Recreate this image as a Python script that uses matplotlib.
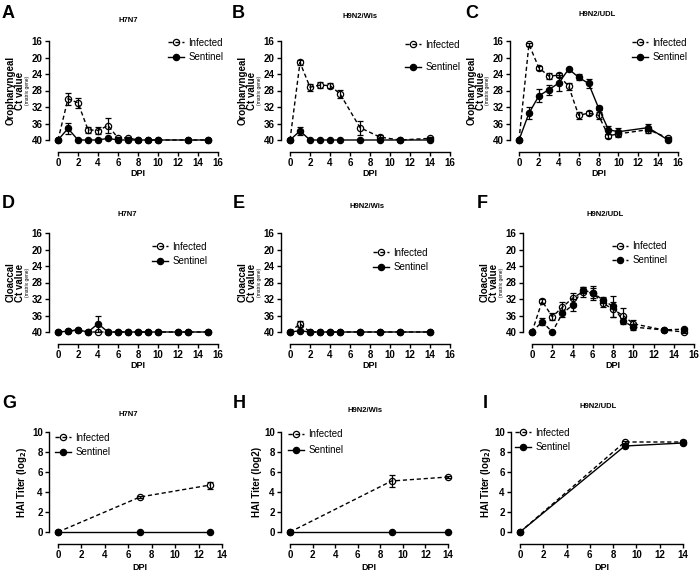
import numpy as np
import matplotlib
matplotlib.use('Agg')
import matplotlib.pyplot as plt

plt.rcParams['font.family'] = ['Liberation Sans', 'DejaVu Sans']
plt.rcParams['font.weight'] = 'bold'

W, H = 700, 577

# ---- oropharyngeal Ct values ----
A_x = [0, 1, 2, 3, 4, 5, 6, 7, 8, 9, 10, 13, 15]
A_inf = [40, 30.0, 31.0, 37.5, 37.7, 36.5, 39.5, 39.5, 40, 40, 40, 40, 40]
A_inf_err = [0, 1.5, 1.2, 0.7, 0.8, 1.8, 0.3, 0.3, 0, 0, 0, 0, 0]
A_sen = [40, 37.2, 40, 40, 40, 39.6, 40, 40, 40, 40, 40, 40, 40]
A_sen_err = [0, 1.3, 0, 0, 0, 0.2, 0, 0, 0, 0, 0, 0, 0]

B_x = [0, 1, 2, 3, 4, 5, 7, 9, 11, 14]
B_inf = [40, 21.2, 27.2, 26.7, 26.8, 28.8, 37.0, 39.3, 40, 39.6]
B_inf_err = [0, 0.5, 0.8, 0.8, 0.7, 1.0, 1.7, 0.4, 0, 0.3]
B_sen = [40, 37.8, 40, 40, 40, 40, 40, 40, 40, 40]
B_sen_err = [0, 1.0, 0, 0, 0, 0, 0, 0, 0, 0]

C_x = [0, 1, 2, 3, 4, 5, 6, 7, 8, 9, 10, 13, 15]
C_inf = [40, 16.8, 22.5, 24.5, 24.3, 27.0, 34.0, 33.5, 34.0, 39.0, 38.5, 37.5, 39.5]
C_inf_err = [0, 0.3, 0.5, 0.8, 0.5, 0.8, 0.8, 0.5, 0.8, 0.5, 0.8, 0.7, 0.3]
C_sen = [40, 33.5, 29.3, 27.8, 26.2, 22.8, 24.8, 26.3, 32.2, 37.5, 38.0, 37.0, 40.0]
C_sen_err = [0, 1.5, 1.6, 1.2, 2.0, 0.3, 0.7, 1.0, 0.5, 1.0, 1.0, 0.8, 0]

# ---- cloacal Ct values ----
D_x = [0, 1, 2, 3, 4, 5, 6, 7, 8, 9, 10, 12, 13, 15]
D_inf = [40, 39.8, 39.5, 40, 40, 40, 40, 40, 40, 40, 40, 40, 40, 40]
D_inf_err = [0, 0, 0.2, 0, 0, 0, 0, 0, 0, 0, 0, 0, 0, 0]
D_sen = [40, 39.8, 39.5, 40, 38.0, 40, 40, 40, 40, 40, 40, 40, 40, 40]
D_sen_err = [0, 0, 0, 0, 2.0, 0, 0, 0, 0, 0, 0, 0, 0, 0]

E_x = [0, 1, 2, 3, 4, 5, 7, 9, 11, 14]
E_inf = [40, 38.0, 40, 40, 40, 40, 40, 40, 40, 40]
E_inf_err = [0, 0.7, 0, 0, 0, 0, 0, 0, 0, 0]
E_sen = [40, 39.7, 40, 40, 40, 40, 40, 40, 40, 40]
E_sen_err = [0, 0, 0, 0, 0, 0, 0, 0, 0, 0]

F_x = [0, 1, 2, 3, 4, 5, 6, 7, 8, 9, 10, 13, 15]
F_inf = [40, 32.5, 36.3, 34.0, 31.8, 30.3, 30.5, 33.0, 34.5, 36.0, 38.0, 39.5, 40.0]
F_inf_err = [0, 0.5, 0.8, 1.3, 1.2, 1.2, 1.7, 1.0, 1.8, 1.8, 0.8, 0.3, 0.3]
F_sen = [40, 37.5, 40, 35.5, 33.5, 29.8, 30.5, 32.2, 33.8, 37.3, 38.8, 39.5, 39.3]
F_sen_err = [0, 0.8, 0, 0.8, 1.5, 0.8, 1.2, 0.8, 2.5, 0.8, 0.7, 0.2, 0.2]

# ---- HAI titers ----
G_x = [0, 7, 13]
G_inf = [0, 3.5, 4.7]
G_inf_err = [0, 0.1, 0.35]
G_sen = [0, 0, 0]
G_sen_err = [0, 0, 0]

H_x = [0, 9, 14]
H_inf = [0, 5.1, 5.5]
H_inf_err = [0, 0.6, 0.1]
H_sen = [0, 0, 0]
H_sen_err = [0, 0, 0]

I_x = [0, 9, 14]
I_inf = [0, 9.0, 9.0]
I_inf_err = [0, 0.1, 0.2]
I_sen = [0, 8.6, 8.9]
I_sen_err = [0, 0.1, 0.1]

CT_TICKS = [16, 20, 24, 28, 32, 36, 40]
CT_XTICKS = list(range(0, 17, 2))
HAI_TICKS = [0, 2, 4, 6, 8, 10]
HAI_XTICKS = list(range(0, 15, 2))

fig = plt.figure(figsize=(W / 100, H / 100), dpi=100)


def px_axes(x0, x1, ytop, ybot):
    return fig.add_axes([x0 / W, 1 - ybot / H, (x1 - x0) / W, (ybot - ytop) / H])


def series(ax, x, y, err, filled, dashed):
    ls = (0, (3, 2)) if dashed else '-'
    fc = 'black' if filled else 'none'
    x = np.array(x)
    y = np.array(y)
    err = np.array(err)
    m = err > 0
    if m.any():
        eb = ax.errorbar(x[m], y[m], yerr=err[m], fmt='none', ecolor='black',
                         elinewidth=0.9, capsize=2, capthick=0.9)
        for art in eb.get_children():
            art.set_clip_on(False)
    line, = ax.plot(x, y, linestyle=ls, color='black', lw=1.0, marker='o',
                    markersize=4.5, markerfacecolor=fc, markeredgecolor='black',
                    markeredgewidth=0.9, clip_on=False, zorder=3)
    return line


def panel(pos, x, inf, inf_err, sen, sen_err, title, letter, letter_xy,
          title_xy, leg_xy, leg_space, kind, sen_dashed=False, ylab=None, ylab_x=None):
    ax = px_axes(*pos)
    h1 = series(ax, x, inf, inf_err, False, True)
    h2 = series(ax, x, sen, sen_err, True, sen_dashed)
    if kind == 'ct':
        ax.set_xlim(0, 16)
        ax.set_ylim(40, 16)
        ax.set_yticks(CT_TICKS)
        ax.set_xticks(CT_XTICKS)
    else:
        ax.set_xlim(0, 14)
        ax.set_ylim(0, 10)
        ax.set_yticks(HAI_TICKS)
        ax.set_xticks(HAI_XTICKS)
    for s in ['top', 'right']:
        ax.spines[s].set_visible(False)
    ax.spines['left'].set_position(('outward', 6.5))
    ax.spines['bottom'].set_position(('outward', 8.5))
    for s in ['left', 'bottom']:
        ax.spines[s].set_linewidth(1.0)
    ax.tick_params(length=3, width=1.0, labelsize=7, pad=1.5)
    ax.patch.set_alpha(0)

    fig.text(letter_xy[0] / W, 1 - letter_xy[1] / H, letter, fontsize=13,
             fontweight='bold', ha='left', va='baseline')
    fig.text(title_xy[0] / W, 1 - title_xy[1] / H, title, fontsize=5.5,
             fontweight='bold', ha='center', va='center')

    lx, ly = leg_xy
    ax.legend([h1, h2], ['Infected', 'Sentinel'], loc='center left',
              bbox_to_anchor=(lx / W, 1 - ly / H), bbox_transform=fig.transFigure,
              frameon=False, prop={'weight': 'normal', 'size': 7},
              handlelength=1.6, handletextpad=0.5, borderpad=0, borderaxespad=0,
              labelspacing=leg_space)

    xc = (pos[0] + pos[1]) / 2
    yc = (pos[2] + pos[3]) / 2
    spine_x = pos[0] - 9
    if kind == 'ct':
        fig.text(xc / W, 1 - (pos[3] + 33) / H, 'DPI', fontsize=6.5,
                 fontweight='bold', ha='center', va='center')
        fig.text((spine_x - 38) / W, 1 - yc / H, ylab, rotation=90, fontsize=7,
                 fontweight='bold', ha='center', va='center')
        fig.text((spine_x - 29) / W, 1 - yc / H, 'Ct value', rotation=90, fontsize=7,
                 fontweight='bold', ha='center', va='center')
        fig.text((spine_x - 22) / W, 1 - yc / H, '(matrix gene)', rotation=90,
                 fontsize=3.5, fontweight='normal', ha='center', va='center')
    else:
        fig.text(xc / W, 1 - (pos[3] + 35) / H, 'DPI', fontsize=6.5,
                 fontweight='bold', ha='center', va='center')
        fig.text((spine_x - ylab_x) / W, 1 - yc / H, ylab, rotation=90,
                 fontsize=7, fontweight='bold', ha='center', va='center')
    return ax


# row 1: oropharyngeal
panel((58, 218, 41, 140), A_x, A_inf, A_inf_err, A_sen, A_sen_err, 'H7N7', 'A',
      (2, 18), (128, 20), (168, 50), 0.45, 'ct', ylab='Oropharyngeal')
panel((290, 450, 41, 140), B_x, B_inf, B_inf_err, B_sen, B_sen_err, 'H9N2/Wis', 'B',
      (232, 18), (360, 17), (405, 56), 1.3, 'ct', ylab='Oropharyngeal')
panel((519, 678, 41, 140), C_x, C_inf, C_inf_err, C_sen, C_sen_err, 'H9N2/UDL', 'C',
      (465, 18), (597, 15), (632, 50), 0.45, 'ct', ylab='Oropharyngeal')

# row 2: cloacal
panel((58, 218, 233, 332), D_x, D_inf, D_inf_err, D_sen, D_sen_err, 'H7N7', 'D',
      (2, 208), (127, 215), (152, 254), 0.45, 'ct', ylab='Cloaccal')
panel((290, 450, 233, 332), E_x, E_inf, E_inf_err, E_sen, E_sen_err, 'H9N2/Wis', 'E',
      (233, 208), (367, 206), (373, 260), 0.45, 'ct', ylab='Cloaccal')
panel((532, 694, 233, 332), F_x, F_inf, F_inf_err, F_sen, F_sen_err, 'H9N2/UDL', 'F',
      (477, 208), (605, 215), (612, 253), 0.4, 'ct', sen_dashed=True, ylab='Cloaccal')

# row 3: HAI
panel((58, 222, 432, 532), G_x, G_inf, G_inf_err, G_sen, G_sen_err, 'H7N7', 'G',
      (2, 408), (128, 415), (55, 445), 0.45, 'hai', ylab='HAI Titer (log$_2$)', ylab_x=27)
panel((290, 448, 432, 532), H_x, H_inf, H_inf_err, H_sen, H_sen_err, 'H9N2/Wis', 'H',
      (233, 408), (365, 410), (288, 442), 0.6, 'hai', ylab='HAI Titer (log2)', ylab_x=24)
panel((520, 683, 432, 532), I_x, I_inf, I_inf_err, I_sen, I_sen_err, 'H9N2/UDL', 'I',
      (483, 408), (598, 406), (515, 440), 0.45, 'hai', ylab='HAI Titer (log$_2$)', ylab_x=25)

fig.savefig('out.png', dpi=100)
